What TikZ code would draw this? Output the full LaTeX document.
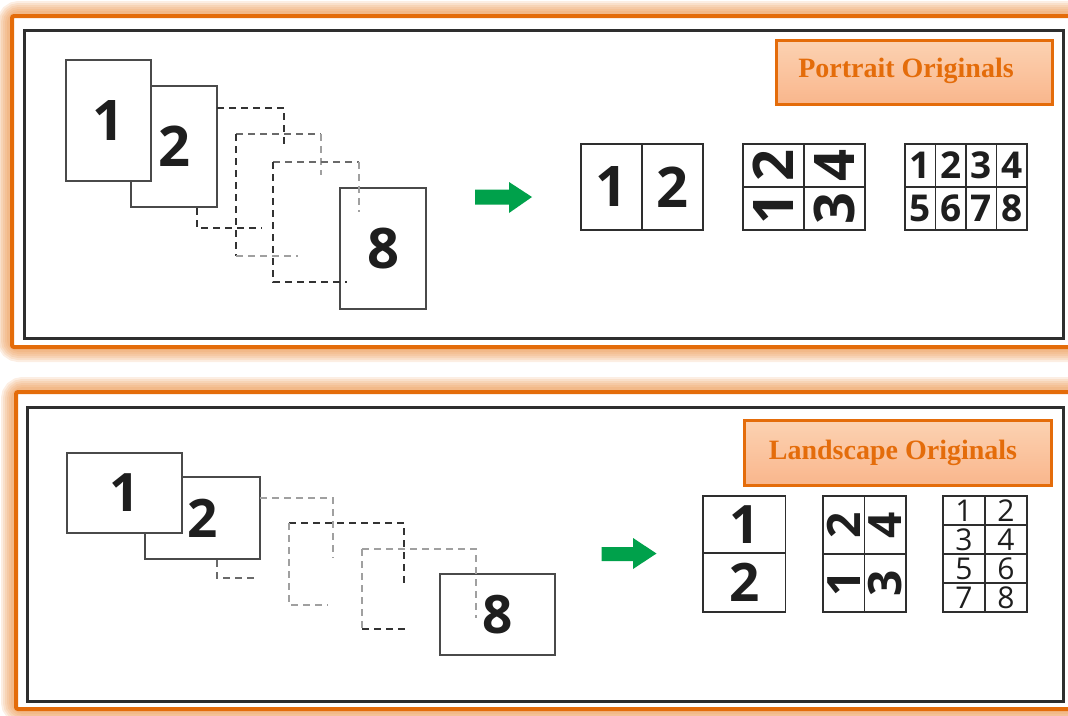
\documentclass[tikz,border=0pt]{standalone}
\usepackage{fontspec}
\newfontfamily\digfont{Open Sans}
\newfontfamily\lblfont{Liberation Serif}
\definecolor{orng}{HTML}{E46C0A}
\definecolor{glowc}{HTML}{EA8A3A}
\definecolor{boxtop}{HTML}{FCD2B2}
\definecolor{boxbot}{HTML}{F9B68C}
\definecolor{framec}{HTML}{2E2E2E}
\definecolor{pageline}{HTML}{4A4A4A}
\definecolor{dashdark}{HTML}{333333}
\definecolor{dashmid}{HTML}{6A6A6A}
\definecolor{dashlight}{HTML}{A0A0A0}
\definecolor{arrowgreen}{HTML}{00A14B}
\definecolor{digitc}{HTML}{1E1E1E}
\tikzset{
  glowline/.style={draw=glowc, opacity=0.14, rounded corners=7pt},
  orangeframe/.style={draw=orng, line width=4pt, rounded corners=2pt},
  blackframe/.style={draw=framec, line width=3pt},
  page/.style={draw=pageline, line width=1.4pt, fill=white, inner sep=0pt, text=digitc},
  bigdig/.style={font=\digfont\bfseries\fontsize{56}{56}\selectfont},
  bigdigb/.style={font=\digfont\bfseries\fontsize{53}{53}\selectfont},
  dpage/.style={line width=1.8pt, dash pattern=on 7pt off 5pt},
  cell/.style={draw=framec, line width=1.6pt, inner sep=0pt, text=digitc},
  rotdig/.style={inner sep=0pt, text=digitc, rotate=90},
  labelbox/.style={draw=orng, line width=3pt, top color=boxtop, bottom color=boxbot, inner sep=0pt},
  labeltext/.style={font=\lblfont\bfseries\fontsize{28}{28}\selectfont, text=orng, inner sep=0pt, anchor=base},
  greenarrow/.style={fill=arrowgreen},
  smalldig/.style={font=\digfont\bfseries\fontsize{37}{37}\selectfont},
  middig/.style={font=\digfont\bfseries\fontsize{46}{46}\selectfont},
  tinydig/.style={font=\digfont\fontsize{30}{30}\selectfont}
}
\begin{document}
\begin{tikzpicture}[x=1pt,y=-1pt]
\useasboundingbox (0,0) rectangle (1068,715);
\clip (0,0) rectangle (1068,715);
% ---------- TOP PANEL FRAME ----------
\foreach \w in {30,26,22,18,14,10} {
  \draw[glowline, line width=\w pt] (12,16) rectangle (1095,347);
}
\fill[white] (14,18) rectangle (1095,345);
\draw[orangeframe] (12,16) rectangle (1095,347);
\draw[blackframe] (24,30) rectangle (1063,338);
% ---------- BOTTOM PANEL FRAME ----------
\foreach \w in {30,26,22,18,14,10} {
  \draw[glowline, line width=\w pt] (16,392) rectangle (1095,709);
}
\fill[white] (18,394) rectangle (1095,707);
\draw[orangeframe] (16,392) rectangle (1095,709);
\draw[blackframe] (27,407) rectangle (1063,701);

% ---------- TOP: portrait originals ----------
\node[page, bigdig, minimum width=86pt, minimum height=121pt] (tp2) at (174,146.5) {2};
\node[page, bigdig, minimum width=85pt, minimum height=121pt] (tp1) at (108.5,120.5) {1};
\node[page, bigdig, minimum width=86pt, minimum height=121pt] (tp8) at (383,248.5) {8};
% dashed pages
\draw[dpage, dashdark] (217,108) -- (284,108) -- (284,148);
\draw[dpage, dashdark] (197,208) -- (197,228) -- (262,228);
\draw[dpage, dashmid] (236,134) -- (321,134);
\draw[dpage, dashlight] (321,134) -- (321,175);
\draw[dpage, dashdark] (236,134) -- (236,256);
\draw[dpage, dashlight] (236,256) -- (298,256);
\draw[dpage, dashmid] (273,162) -- (359,162);
\draw[dpage, dashlight] (359,162) -- (359,212);
\draw[dpage, dashdark] (273,162) -- (273,282) -- (347,282);
% arrow
\fill[greenarrow] (475,189.5) -- (509,189.5) -- (509,182) -- (532,197) -- (509,213) -- (509,204.5) -- (475,204.5) -- cycle;
% 2-up
\node[cell, bigdig, minimum width=61pt, minimum height=86pt] (ta1) at (611.5,187) {1};
\node[cell, bigdig, minimum width=61pt, minimum height=86pt] (ta2) at (672.5,187) {2};
% 4-up
\node[cell, minimum width=61pt, minimum height=43pt] (tb2) at (773.5,165.5) {};
\node[cell, minimum width=61pt, minimum height=43pt] (tb4) at (834.5,165.5) {};
\node[cell, minimum width=61pt, minimum height=43pt] (tb1) at (773.5,208.5) {};
\node[cell, minimum width=61pt, minimum height=43pt] (tb3) at (834.5,208.5) {};
\node[rotdig, bigdig] (tb2d) at (tb2.center) {2};
\node[rotdig, bigdig] (tb4d) at (tb4.center) {4};
\node[rotdig, bigdig] (tb1d) at (tb1.center) {1};
\node[rotdig, bigdig] (tb3d) at (tb3.center) {3};
% 8-up
\node[cell, smalldig, minimum width=30.5pt, minimum height=43pt] (tc1) at (920.25,165.5) {1};
\node[cell, smalldig, minimum width=30.5pt, minimum height=43pt] (tc2) at (950.75,165.5) {2};
\node[cell, smalldig, minimum width=30.5pt, minimum height=43pt] (tc3) at (981.25,165.5) {3};
\node[cell, smalldig, minimum width=30.5pt, minimum height=43pt] (tc4) at (1011.75,165.5) {4};
\node[cell, smalldig, minimum width=30.5pt, minimum height=43pt] (tc5) at (920.25,208.5) {5};
\node[cell, smalldig, minimum width=30.5pt, minimum height=43pt] (tc6) at (950.75,208.5) {6};
\node[cell, smalldig, minimum width=30.5pt, minimum height=43pt] (tc7) at (981.25,208.5) {7};
\node[cell, smalldig, minimum width=30.5pt, minimum height=43pt] (tc8) at (1011.75,208.5) {8};
% label
\node[labelbox, minimum width=276pt, minimum height=64pt] (tlbox) at (914,72) {};
\node[labeltext] (tlab) at (906,77) {Portrait Originals};

% ---------- BOTTOM: landscape originals ----------
\node[page, bigdigb, minimum width=115pt, minimum height=82pt] (bp2) at (202.5,518) {2};
\node[page, bigdigb, minimum width=115pt, minimum height=80pt] (bp1) at (124.5,493) {1};
\node[page, bigdigb, minimum width=115pt, minimum height=81pt] (bp8) at (497.5,614.5) {8};
% dashed pages
\draw[dpage, dashlight] (260,498) -- (333,498) -- (333,558);
\draw[dpage, dashmid] (217,560) -- (217,578) -- (257,578);
\draw[dpage, dashdark] (289,523) -- (404,523) -- (404,583);
\draw[dpage, dashlight] (289,523) -- (289,605) -- (328,605);
\draw[dpage, dashlight] (362,549) -- (476,549) -- (476,618);
\draw[dpage, dashlight] (362,549) -- (362,629);
\draw[dpage, dashdark] (362,629) -- (409,629);
% arrow
\fill[greenarrow] (601.5,547) -- (633,547) -- (633,538) -- (656.5,553.5) -- (633,569) -- (633,561) -- (601.5,561) -- cycle;
% 2-up vertical
\node[cell, bigdigb, minimum width=82.5pt, minimum height=57pt] (ba1) at (744.25,524.5) {1};
\node[cell, bigdigb, minimum width=82.5pt, minimum height=59pt] (ba2) at (744.25,582.5) {2};
% 4-up
\node[cell, minimum width=41.5pt, minimum height=58pt] (bb2) at (843.75,525) {};
\node[cell, minimum width=41.5pt, minimum height=58pt] (bb4) at (885.25,525) {};
\node[cell, minimum width=41.5pt, minimum height=58pt] (bb1) at (843.75,583) {};
\node[cell, minimum width=41.5pt, minimum height=58pt] (bb3) at (885.25,583) {};
\node[rotdig, middig] (bb2d) at (bb2.center) {2};
\node[rotdig, middig] (bb4d) at (bb4.center) {4};
\node[rotdig, middig] (bb1d) at (bb1.center) {1};
\node[rotdig, middig] (bb3d) at (bb3.center) {3};
% 8-up
\node[cell, tinydig, minimum width=42pt, minimum height=29pt] (bc1) at (964,510.5) {1};
\node[cell, tinydig, minimum width=42pt, minimum height=29pt] (bc2) at (1006,510.5) {2};
\node[cell, tinydig, minimum width=42pt, minimum height=29pt] (bc3) at (964,539.5) {3};
\node[cell, tinydig, minimum width=42pt, minimum height=29pt] (bc4) at (1006,539.5) {4};
\node[cell, tinydig, minimum width=42pt, minimum height=29pt] (bc5) at (964,568.5) {5};
\node[cell, tinydig, minimum width=42pt, minimum height=29pt] (bc6) at (1006,568.5) {6};
\node[cell, tinydig, minimum width=42pt, minimum height=29pt] (bc7) at (964,597.5) {7};
\node[cell, tinydig, minimum width=42pt, minimum height=29pt] (bc8) at (1006,597.5) {8};
% label
\node[labelbox, minimum width=307pt, minimum height=65pt] (blbox) at (897.5,452.5) {};
\node[labeltext] (blab) at (893,459) {Landscape Originals};
\end{tikzpicture}
\end{document}
